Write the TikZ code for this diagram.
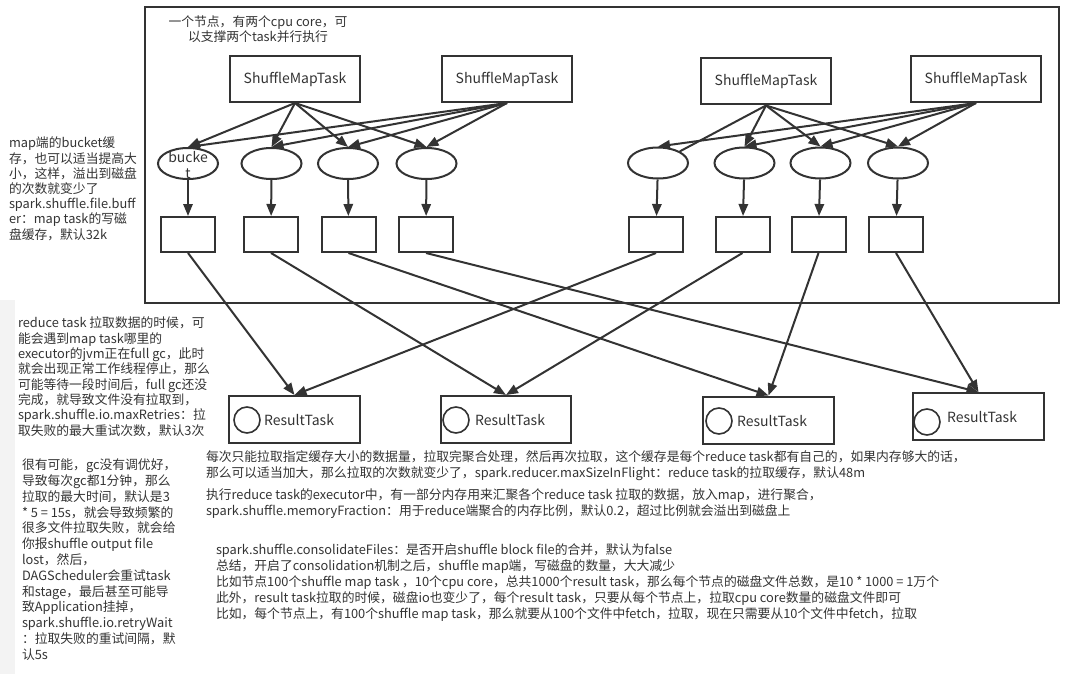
\documentclass[tikz,border=0pt]{standalone}
\usepackage{fontspec}
\setmainfont{Noto Sans CJK SC}
\usetikzlibrary{arrows.meta,shapes.geometric}
\definecolor{ink}{HTML}{333333}
\definecolor{side}{HTML}{F3F3F3}

\begin{document}
\begin{tikzpicture}
  [x=0.75pt, y=-0.75pt, color=ink, line width=1.5pt,
   >={Triangle[length=9pt,width=7pt]},
   maptask/.style={draw, rectangle, minimum width=98pt, minimum height=34.5pt, inner sep=0pt, font=\fontsize{10.5}{12}\selectfont},
   bucket/.style={draw, ellipse, minimum width=45pt, minimum height=23.25pt, inner sep=0pt},
   file/.style={draw, rectangle, minimum width=40.5pt, minimum height=26.25pt, inner sep=0pt},
   result/.style={draw, rectangle, minimum width=98pt, minimum height=35.25pt, inner sep=0pt},
   ring/.style={draw, circle, minimum size=19.5pt, inner sep=0pt, line width=1.2pt},
   tasktext/.style={anchor=west, inner sep=0pt, font=\fontsize{10.5}{12}\selectfont},
   note/.style={anchor=north west, align=left, inner sep=0pt, font=\fontsize{9.6}{11.6}\selectfont}]
  \useasboundingbox (0,0) rectangle (1090,674);
  \fill[side] (0,300) rectangle (15,674);

  % node frame
  \draw (145,7) rectangle (1059,303);
  \node[align=center, inner sep=0pt, font=\fontsize{9.6}{11.25}\selectfont] (head) at (258,29)
    {一个节点，有两个cpu core，可\\以支撑两个task并行执行};

  % map tasks
  \node[maptask] (smt1) at (295,79) {ShuffleMapTask};
  \node[maptask] (smt2) at (507,79) {ShuffleMapTask};
  \node[maptask] (smt3) at (766,81.5) {ShuffleMapTask};
  \node[maptask] (smt4) at (976,79) {ShuffleMapTask};

  % buckets
  \node[bucket, label={[font=\fontsize{10.5}{12}\selectfont, align=center, inner sep=0pt, yshift=-1pt]center:bucke\\t}] (e1) at (188,163.5) {};
  \node[bucket] (e2) at (271.5,163.5) {};
  \node[bucket] (e3) at (348,163.5) {};
  \node[bucket] (e4) at (426.5,163.5) {};
  \node[bucket] (e5) at (658,163) {};
  \node[bucket] (e6) at (744.5,163) {};
  \node[bucket] (e7) at (820.5,163) {};
  \node[bucket] (e8) at (898,163) {};

  % disk files
  \node[file] (b1) at (188,234.5) {};
  \node[file] (b2) at (271,234.5) {};
  \node[file] (b3) at (348.5,234.5) {};
  \node[file] (b4) at (426,234.5) {};
  \node[file] (b5) at (656,234.5) {};
  \node[file] (b6) at (742.5,234.5) {};
  \node[file] (b7) at (818.5,234.5) {};
  \node[file] (b8) at (896,234.5) {};

  % result tasks
  \node[result] (r1) at (294.5,419.5) {};
  \node[result] (r2) at (506,419.5) {};
  \node[result] (r3) at (768.5,420) {};
  \node[result] (r4) at (978.5,416.5) {};
  \node[ring] (c1) at (247,420) {};
  \node[ring] (c2) at (456,420) {};
  \node[ring] (c3) at (719,421) {};
  \node[ring] (c4) at (927,422) {};
  \node[tasktext] (t1) at (263,420) {ResultTask};
  \node[tasktext] (t2) at (474,420) {ResultTask};
  \node[tasktext] (t3) at (736,421) {ResultTask};
  \node[tasktext] (t4) at (946,417) {ResultTask};

  % map task -> bucket
  \draw (smt1.south) edge[->] (e1.north) edge[->] (e2.north) edge[->] (e3.north) edge[->] (e4.north);
  \draw (smt2.south) edge[->] (e1.north) edge[->] (e2.north) edge[->] (e3.north) edge[->] (e4.north);
  \draw (smt3.south) edge (e5) edge[->] (e6.north) edge[->] (e7.north) edge[->] (e8.north);
  \draw (smt4.south) edge[->] (e5.north) edge[->] (e6.north) edge[->] (e7.north) edge[->] (e8.north);

  % bucket -> file
  \draw (e1) edge[->] (b1);
  \draw (e2) edge[->] (b2);
  \draw (e3) edge[->] (b3);
  \draw (e4) edge[->] (b4);
  \draw (e5) edge[->] (b5);
  \draw (e6) edge[->] (b6);
  \draw (e7) edge[->] (b7);
  \draw (e8) edge[->] (b8);

  % file -> result task
  \draw (b1.south) edge[->] (r1.north);
  \draw (b5.south) edge[->] (r1.north);
  \draw (b2.south) edge[->] (r2.north);
  \draw (b6.south) edge[->] (r2.north);
  \draw (b3.south) edge[->] (r3.north);
  \draw (b7.south) edge[->] (r3.north);
  \draw (b4.south) edge[->] (r4.north);
  \draw (b8.south) edge[->] (r4.north);

  % notes
  \node[note, font=\fontsize{9.6}{11.4}\selectfont] (n1) at (8,136)
    {map端的bucket缓\\存，也可以适当提高大\\小，这样，溢出到磁盘\\的次数就变少了\\spark.shuffle.file.buff\\er：map task的写磁\\盘缓存，默认32k};
  \node[note, font=\fontsize{9.6}{11.5}\selectfont] (n2) at (17,316)
    {reduce task 拉取数据的时候，可\\能会遇到map task哪里的\\executor的jvm正在full gc，此时\\就会出现正常工作线程停止，那么\\可能等待一段时间后，full gc还没\\完成，就导致文件没有拉取到，\\spark.shuffle.io.maxRetries：拉\\取失败的最大重试次数，默认3次};
  \node[note, font=\fontsize{9.6}{11.85}\selectfont] (n3) at (21,458)
    {很有可能，gc没有调优好，\\导致每次gc都1分钟，那么\\拉取的最大时间，默认是3\\{}* 5 = 15s，就会导致频繁的\\很多文件拉取失败，就会给\\你报shuffle output file\\lost，然后，\\DAGScheduler会重试task\\和stage，最后甚至可能导\\致Application挂掉，\\spark.shuffle.io.retryWait\\：拉取失败的重试间隔，默\\认5s};
  \node[note, font=\fontsize{9.6}{12}\selectfont] (n4) at (205,450)
    {每次只能拉取指定缓存大小的数据量，拉取完聚合处理，然后再次拉取，这个缓存是每个reduce task都有自己的，如果内存够大的话，\\那么可以适当加大，那么拉取的次数就变少了，spark.reducer.maxSizeInFlight：reduce task的拉取缓存，默认48m};
  \node[note, font=\fontsize{9.6}{12}\selectfont] (n5) at (205,488)
    {执行reduce task的executor中，有一部分内存用来汇聚各个reduce task 拉取的数据，放入map，进行聚合，\\spark.shuffle.memoryFraction：用于reduce端聚合的内存比例，默认0.2，超过比例就会溢出到磁盘上};
  \node[note, font=\fontsize{9.6}{11.85}\selectfont] (n6) at (215,543)
    {spark.shuffle.consolidateFiles：是否开启shuffle block file的合并，默认为false\\总结，开启了consolidation机制之后，shuffle map端，写磁盘的数量，大大减少\\比如节点100个shuffle map task ，10个cpu core，总共1000个result task，那么每个节点的磁盘文件总数，是10 * 1000 = 1万个\\此外，result task拉取的时候，磁盘io也变少了，每个result task，只要从每个节点上，拉取cpu core数量的磁盘文件即可\\比如，每个节点上，有100个shuffle map task，那么就要从100个文件中fetch，拉取，现在只需要从10个文件中fetch，拉取};
\end{tikzpicture}
\end{document}
